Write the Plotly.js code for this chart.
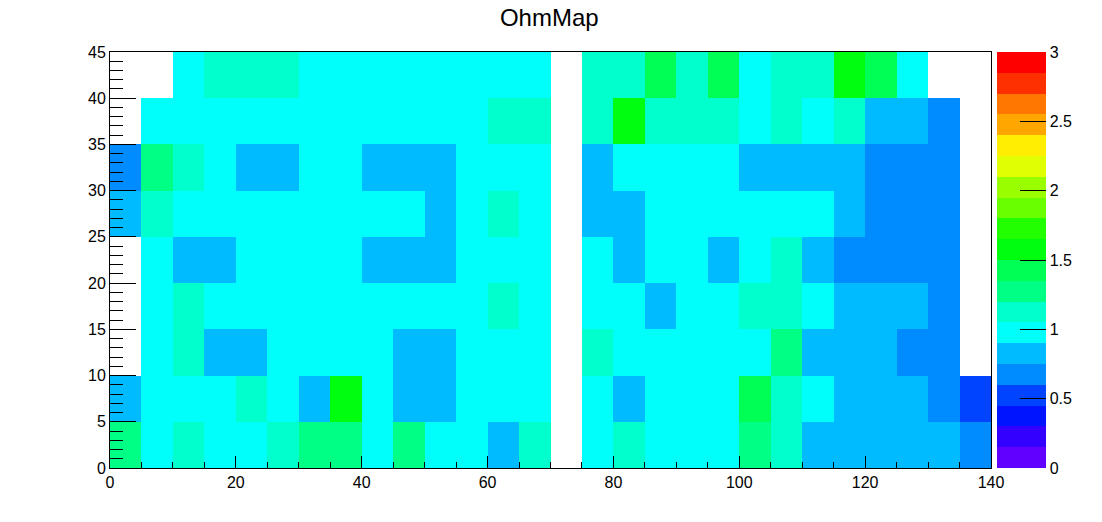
<!DOCTYPE html>
<html>
<head>
<meta charset="utf-8">
<script src="https://cdn.plot.ly/plotly-3.0.1.min.js"></script>
<style>html,body{margin:0;padding:0;background:#fff;}#chart{width:1102px;height:522px;}</style>
</head>
<body>
<div id="chart"></div>
<script>
// Bin edges (x: 0..140 step 5, y: 0..45 step 5)
const xEdges = [0,5,10,15,20,25,30,35,40,45,50,55,60,65,70,75,80,85,90,95,100,105,110,115,120,125,130,135,140];
const yEdges = [0,5,10,15,20,25,30,35,40,45];

// Cell values, rows from y=0-5 (first) to y=40-45 (last); null = empty bin
const row0 = [1.29,0.98,1.12,0.99,1.01,1.13,1.28,1.30,0.97,1.28,0.99,1.00,0.83,1.12,null,0.99,1.13,0.98,1.00,0.97,1.29,1.12,0.84,0.82,0.83,0.84,0.82,0.68];
const row1 = [0.82,0.99,1.00,0.98,1.12,0.97,0.83,1.57,0.99,0.82,0.84,1.00,0.98,0.99,null,0.98,0.83,1.00,0.99,0.97,1.43,1.13,0.99,0.83,0.82,0.84,0.68,0.53];
const row2 = [null,0.98,1.13,0.83,0.82,0.99,1.00,0.97,0.98,0.83,0.82,0.99,1.01,0.98,null,1.12,0.99,0.98,1.00,0.97,0.99,1.29,0.83,0.84,0.82,0.69,0.67,null];
const row3 = [null,0.99,1.12,0.98,1.00,0.97,0.99,1.01,0.98,0.99,1.00,0.97,1.13,0.98,null,0.99,1.00,0.83,0.98,0.99,1.12,1.13,0.98,0.82,0.83,0.84,0.68,null];
const row4 = [null,0.98,0.83,0.82,0.99,1.00,0.98,0.97,0.84,0.82,0.83,0.99,1.00,0.98,null,0.98,0.83,0.99,1.00,0.82,0.97,1.12,0.83,0.68,0.67,0.69,0.68,null];
const row5 = [0.82,1.13,0.99,0.98,1.00,0.97,0.99,1.01,0.98,0.99,0.83,0.97,1.12,0.98,null,0.82,0.84,0.99,0.98,1.00,0.97,0.99,0.98,0.83,0.68,0.67,0.69,null];
const row6 = [0.68,1.28,1.12,0.99,0.83,0.82,0.98,1.00,0.84,0.83,0.82,0.99,0.98,1.00,null,0.83,0.98,0.99,1.00,0.97,0.82,0.84,0.83,0.82,0.67,0.68,0.69,null];
const row7 = [null,0.99,0.98,1.00,0.97,0.99,1.01,0.98,0.99,1.00,0.97,0.98,1.13,1.12,null,1.12,1.57,1.13,1.12,1.14,0.99,1.12,0.98,1.13,0.83,0.82,0.68,null];
const row8 = [null,null,0.99,1.12,1.13,1.12,0.98,1.00,0.97,0.99,1.01,0.98,0.99,1.00,null,1.13,1.12,1.43,1.12,1.42,0.98,1.13,1.12,1.58,1.43,0.99,null,null];

const zRows = [row0,row1,row2,row3,row4,row5,row6,row7,row8];

// Colour bar
const zMin = 0, zMax = 3;
const levelColors = ['#6200ff','#3300ff','#0014ff','#0044ff','#008bff','#00bbff','#00fffb','#00ffcc','#00ff85','#00ff55',
                     '#00ff0e','#22ff00','#69ff00','#99ff00','#e0ff00','#ffee00','#ffa700','#ff7700','#ff3000','#ff0000'];
const cbTicks = [0,0.5,1,1.5,2,2.5,3];
const xTicks = [0,20,40,60,80,100,120,140];
const yTicks = [0,5,10,15,20,25,30,35,40,45];

const n = levelColors.length;
const colorscale = [];
levelColors.forEach((c,i)=>{ colorscale.push([i/n,c]); colorscale.push([(i+1)/n,c]); });

const FONT = 'Liberation Sans, Arial, Helvetica, sans-serif';

const trace = {
  type: 'heatmap',
  x: xEdges,
  y: yEdges,
  z: zRows,
  zmin: zMin, zmax: zMax,
  colorscale: colorscale,
  xgap: 0, ygap: 0,
  hoverongaps: false,
  colorbar: {
    x: 1.0068, xanchor: 'left', xref: 'paper',
    y: 0.5, yanchor: 'middle',
    len: 1, lenmode: 'fraction',
    thickness: 49, thicknessmode: 'pixels',
    xpad: 0, ypad: 0,
    outlinewidth: 0,
    tickmode: 'array', tickvals: cbTicks, ticktext: cbTicks.map(String),
    ticks: 'inside', ticklen: 26, tickwidth: 1, tickcolor: '#000',
    tickfont: {family: FONT, size: 16, color: '#000'},
    ticklabelposition: 'outside'
  }
};

const layout = {
  width: 1102, height: 522,
  margin: {l: 110, r: 111, t: 52, b: 54, pad: 0, autoexpand: false},
  paper_bgcolor: '#fff', plot_bgcolor: '#fff',
  title: {text: 'OhmMap', font: {family: FONT, size: 24, color: '#000'},
          x: 0.4986, xanchor: 'center', xref: 'paper', y: 0.9655, yanchor: 'middle', yref: 'container', automargin: false},
  xaxis: {
    range: [0,140], autorange: false, automargin: false,
    tickmode: 'array', tickvals: xTicks, ticktext: xTicks.map(String),
    ticks: 'inside', ticklen: 12, tickwidth: 1, tickcolor: '#000',
    minor: {dtick: 5, tick0: 0, ticks: 'inside', ticklen: 6, tickwidth: 1, tickcolor: '#000', showgrid: false},
    showgrid: false, zeroline: false,
    showline: true, linecolor: '#000', linewidth: 1, mirror: true,
    tickfont: {family: FONT, size: 16, color: '#000'},
    layer: 'above traces'
  },
  yaxis: {
    range: [0,45], autorange: false, automargin: false,
    tickmode: 'array', tickvals: yTicks, ticktext: yTicks.map(String),
    ticks: 'inside', ticklen: 26, tickwidth: 1, tickcolor: '#000',
    minor: {dtick: 1, tick0: 0, ticks: 'inside', ticklen: 13, tickwidth: 1, tickcolor: '#000', showgrid: false},
    showgrid: false, zeroline: false,
    showline: true, linecolor: '#000', linewidth: 1, mirror: true,
    tickfont: {family: FONT, size: 16, color: '#000'},
    layer: 'above traces'
  },
  showlegend: false
};

Plotly.newPlot('chart', [trace], layout, {displayModeBar: false, staticPlot: true});
</script>
</body>
</html>
